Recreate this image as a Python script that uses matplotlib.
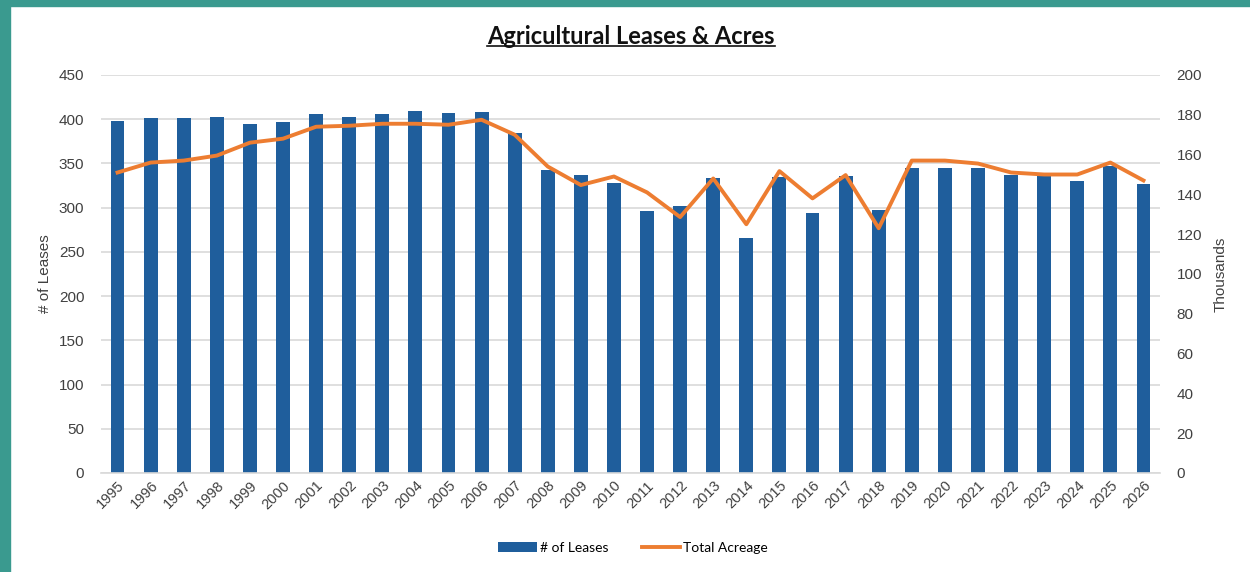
import numpy as np
import matplotlib.pyplot as plt
from matplotlib.patches import Rectangle
from matplotlib.lines import Line2D

years = [str(y) for y in range(1995, 2027)]
leases = [398, 401, 401, 402, 395, 397, 406, 402, 406, 409, 407, 408, 384, 343,
          337, 328, 296, 302, 333, 266, 335, 294, 336, 297, 345, 345, 345, 337,
          337, 330, 347, 327]
acreage_k = [151, 156, 157, 159.5, 166, 168, 174, 174.5, 175.5, 175.5, 175, 177.5,
             170, 154, 144.7, 149, 141, 128.6, 148, 125, 151.7, 138, 149.7, 123,
             157, 157, 155.5, 151, 150, 150, 156, 147]

bar_color = '#1f5e9c'
line_color = '#ed7d31'
grid_color = '#d9d9d9'
text_color = '#404040'

plt.rcParams['font.family'] = ['Liberation Sans', 'DejaVu Sans']

fig = plt.figure(figsize=(12.5, 5.72), dpi=100)
# teal frame on the left and top
fig.patches.append(Rectangle((0, 0), 10 / 1250, 1, transform=fig.transFigure,
                             color='#3a9a8f', zorder=0))
fig.patches.append(Rectangle((0, 1 - 6 / 572), 1, 6 / 572, transform=fig.transFigure,
                             color='#3a9a8f', zorder=0))

ax = fig.add_axes([101 / 1250, 99 / 572, 1059 / 1250, 398 / 572])
ax2 = ax.twinx()

x = np.arange(len(years))
bars = ax.bar(x, leases, width=0.42, color=bar_color, zorder=2, label='# of Leases')
ax.set_xlim(-0.5, len(years) - 0.5)
ax.set_ylim(0, 450)
ax.set_yticks(range(0, 451, 50))
ax.yaxis.grid(True, color=grid_color, linewidth=1.2, zorder=0)
ax.set_axisbelow(True)
ax.set_xticks(x)
ax.set_xticklabels(years, rotation=45, ha='right', rotation_mode='anchor',
                   fontsize=10.5, color=text_color)
ax.tick_params(axis='y', length=0, labelsize=11, labelcolor=text_color, pad=12)
ax.tick_params(axis='x', length=0, pad=4)
ax.set_ylabel('# of Leases', fontsize=11, color=text_color, labelpad=5)
for s in ['top', 'right', 'left']:
    ax.spines[s].set_visible(False)
ax.spines['bottom'].set_color(grid_color)
ax.spines['bottom'].set_linewidth(1.2)

line, = ax2.plot(x, acreage_k, color=line_color, linewidth=2.8, zorder=3,
                 solid_joinstyle='round', label='Total Acreage')
ax2.set_ylim(0, 200)
ax2.set_yticks(range(0, 201, 20))
ax2.tick_params(axis='y', length=0, labelsize=11, labelcolor=text_color, pad=12)
ax2.set_ylabel('Thousands', fontsize=11, color=text_color, labelpad=8)
for s in ax2.spines.values():
    s.set_visible(False)

title = fig.text(631 / 1250, 1 - 37 / 572, 'Agricultural Leases & Acres',
                 ha='center', va='center', fontsize=17, fontweight='bold',
                 family=['Lato', 'DejaVu Sans'], color='#111111')

fig.legend([bars, line], ['# of Leases', 'Total Acreage'], loc='center',
           bbox_to_anchor=(633 / 1250, 1 - 548 / 572), ncol=2, frameon=False,
           prop={'family': 'Lato', 'size': 10}, handlelength=2.8,
           handletextpad=0.2, columnspacing=2.4)

# underline the title
fig.canvas.draw()
bb = title.get_window_extent().transformed(fig.transFigure.inverted())
fig.lines.append(Line2D([bb.x0, bb.x1], [bb.y0 + 0.004, bb.y0 + 0.004],
                        transform=fig.transFigure, color='#111111', linewidth=1.2))

fig.savefig('out.png', dpi=100, facecolor='white')
